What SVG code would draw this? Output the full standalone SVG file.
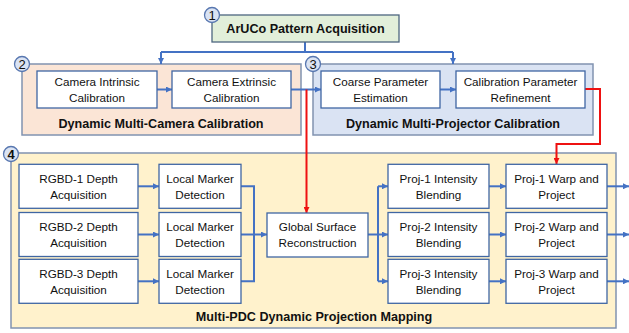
<svg xmlns="http://www.w3.org/2000/svg" width="629" height="333" viewBox="0 0 629 333">
  <style>
    text { font-family: "Liberation Sans", Arial, sans-serif; fill: #111; }
    .lbl { font-size: 11.7px; text-anchor: middle; }
    .title { font-size: 12.6px; font-weight: bold; text-anchor: middle; }
    .num { font-size: 13px; text-anchor: middle; }
    .inner { fill: #ffffff; stroke: #3f66a3; stroke-width: 1.3; }
    .outer { stroke: #8193b0; stroke-width: 1.5; }
    .badge { fill: #dae3f3; stroke: #5877b0; stroke-width: 1.3; }
    .blue { fill: none; stroke: #4472c4; stroke-width: 2; }
    .red { fill: none; stroke: #ee1111; stroke-width: 2; }
  </style>
  <defs>
    <marker id="ab" markerUnits="userSpaceOnUse" markerWidth="7" markerHeight="6" refX="6" refY="3" orient="auto">
      <path d="M0,0 L6,3 L0,6 z" fill="#4472c4"/>
    </marker>
    <marker id="ar" markerUnits="userSpaceOnUse" markerWidth="7" markerHeight="6" refX="6" refY="3" orient="auto">
      <path d="M0,0 L6,3 L0,6 z" fill="#ee1111"/>
    </marker>
  </defs>

  <!-- stage containers -->
  <g id="stage2">
    <rect class="outer" x="22" y="64" width="279" height="71" fill="#fbe5d6"/>
    <text class="title" x="161" y="127.5">Dynamic Multi-Camera Calibration</text>
  </g>
  <g id="stage3">
    <rect class="outer" x="313" y="64" width="280" height="71" fill="#dae3f3"/>
    <text class="title" x="453" y="127.5">Dynamic Multi-Projector Calibration</text>
  </g>
  <g id="stage4">
    <rect class="outer" x="11" y="153" width="605" height="175" fill="#fff2cc"/>
    <text class="title" x="314" y="321">Multi-PDC Dynamic Projection Mapping</text>
  </g>

  <!-- connectors -->
  <g id="connectors">
    <path class="blue" d="M305,42 V52 M161,52 H453"/>
    <path class="blue" d="M161,52 V64" marker-end="url(#ab)"/>
    <path class="blue" d="M453,52 V64" marker-end="url(#ab)"/>
    <path class="blue" d="M157,89.5 H172" marker-end="url(#ab)"/>
    <path class="blue" d="M291,89.5 H321" marker-end="url(#ab)"/>
    <path class="blue" d="M440,89.5 H456" marker-end="url(#ab)"/>

    <path class="blue" d="M138,186.3 H159" marker-end="url(#ab)"/>
    <path class="blue" d="M138,234.5 H159" marker-end="url(#ab)"/>
    <path class="blue" d="M138,281.3 H159" marker-end="url(#ab)"/>
    <path class="blue" d="M241,186.3 H254 V281.3 H241"/>
    <path class="blue" d="M241,234.5 H267" marker-end="url(#ab)"/>

    <path class="blue" d="M368,234.5 H378"/>
    <path class="blue" d="M378,186.3 V281.3"/>
    <path class="blue" d="M378,186.3 H388" marker-end="url(#ab)"/>
    <path class="blue" d="M378,234.5 H388" marker-end="url(#ab)"/>
    <path class="blue" d="M378,281.3 H388" marker-end="url(#ab)"/>

    <path class="blue" d="M489,186.3 H506" marker-end="url(#ab)"/>
    <path class="blue" d="M489,234.5 H506" marker-end="url(#ab)"/>
    <path class="blue" d="M489,281.3 H506" marker-end="url(#ab)"/>

    <path class="blue" d="M607,186.3 H629" marker-end="url(#ab)"/>
    <path class="blue" d="M607,234.5 H629" marker-end="url(#ab)"/>
    <path class="blue" d="M607,281.3 H629" marker-end="url(#ab)"/>

    <path class="red" d="M306.5,89.5 V213" marker-end="url(#ar)"/>
    <path class="red" d="M585,89 H600 V144 H556.5 V164" marker-end="url(#ar)"/>
  </g>

  <!-- nodes -->
  <g id="aruco">
    <rect x="212" y="15" width="187" height="27" fill="#e2efda" stroke="#4d6680" stroke-width="1.3"/>
    <text class="title" x="305.5" y="33">ArUCo Pattern Acquisition</text>
  </g>

  <g id="cam-intrinsic">
    <rect class="inner" x="37" y="71" width="120" height="37"/>
    <text class="lbl" x="97" y="86">Camera Intrinsic</text>
    <text class="lbl" x="97" y="102">Calibration</text>
  </g>
  <g id="cam-extrinsic">
    <rect class="inner" x="172" y="71" width="119" height="37"/>
    <text class="lbl" x="231.5" y="86">Camera Extrinsic</text>
    <text class="lbl" x="231.5" y="102">Calibration</text>
  </g>
  <g id="coarse">
    <rect class="inner" x="321" y="71" width="119" height="37"/>
    <text class="lbl" x="380.5" y="86">Coarse Parameter</text>
    <text class="lbl" x="380.5" y="102">Estimation</text>
  </g>
  <g id="refine">
    <rect class="inner" x="456" y="71" width="129" height="37"/>
    <text class="lbl" x="520.5" y="86">Calibration Parameter</text>
    <text class="lbl" x="520.5" y="102">Refinement</text>
  </g>

  <g id="rgbd1">
    <rect class="inner" x="19" y="164.3" width="119" height="44"/>
    <text class="lbl" x="78.5" y="183">RGBD-1 Depth</text>
    <text class="lbl" x="78.5" y="199">Acquisition</text>
  </g>
  <g id="rgbd2">
    <rect class="inner" x="19" y="212.5" width="119" height="44"/>
    <text class="lbl" x="78.5" y="231">RGBD-2 Depth</text>
    <text class="lbl" x="78.5" y="247">Acquisition</text>
  </g>
  <g id="rgbd3">
    <rect class="inner" x="19" y="259.3" width="119" height="44"/>
    <text class="lbl" x="78.5" y="278">RGBD-3 Depth</text>
    <text class="lbl" x="78.5" y="294">Acquisition</text>
  </g>

  <g id="marker1">
    <rect class="inner" x="159" y="164.3" width="82" height="44"/>
    <text class="lbl" x="200" y="183">Local Marker</text>
    <text class="lbl" x="200" y="199">Detection</text>
  </g>
  <g id="marker2">
    <rect class="inner" x="159" y="212.5" width="82" height="44"/>
    <text class="lbl" x="200" y="231">Local Marker</text>
    <text class="lbl" x="200" y="247">Detection</text>
  </g>
  <g id="marker3">
    <rect class="inner" x="159" y="259.3" width="82" height="44"/>
    <text class="lbl" x="200" y="278">Local Marker</text>
    <text class="lbl" x="200" y="294">Detection</text>
  </g>

  <g id="global-surface">
    <rect class="inner" x="267" y="213" width="101" height="44"/>
    <text class="lbl" x="317.5" y="231">Global Surface</text>
    <text class="lbl" x="317.5" y="247">Reconstruction</text>
  </g>

  <g id="blend1">
    <rect class="inner" x="388" y="164.3" width="101" height="44"/>
    <text class="lbl" x="438.5" y="183">Proj-1 Intensity</text>
    <text class="lbl" x="438.5" y="199">Blending</text>
  </g>
  <g id="blend2">
    <rect class="inner" x="388" y="212.5" width="101" height="44"/>
    <text class="lbl" x="438.5" y="231">Proj-2 Intensity</text>
    <text class="lbl" x="438.5" y="247">Blending</text>
  </g>
  <g id="blend3">
    <rect class="inner" x="388" y="259.3" width="101" height="44"/>
    <text class="lbl" x="438.5" y="278">Proj-3 Intensity</text>
    <text class="lbl" x="438.5" y="294">Blending</text>
  </g>

  <g id="warp1">
    <rect class="inner" x="506" y="164.3" width="101" height="44"/>
    <text class="lbl" x="556.5" y="183">Proj-1 Warp and</text>
    <text class="lbl" x="556.5" y="199">Project</text>
  </g>
  <g id="warp2">
    <rect class="inner" x="506" y="212.5" width="101" height="44"/>
    <text class="lbl" x="556.5" y="231">Proj-2 Warp and</text>
    <text class="lbl" x="556.5" y="247">Project</text>
  </g>
  <g id="warp3">
    <rect class="inner" x="506" y="259.3" width="101" height="44"/>
    <text class="lbl" x="556.5" y="278">Proj-3 Warp and</text>
    <text class="lbl" x="556.5" y="294">Project</text>
  </g>

  <!-- step badges -->
  <g id="badge1">
    <circle class="badge" cx="212" cy="15" r="7.5"/>
    <text class="num" x="212" y="19.6">1</text>
  </g>
  <g id="badge2">
    <circle class="badge" cx="22" cy="64" r="7.5"/>
    <text class="num" x="22" y="68.6">2</text>
  </g>
  <g id="badge3">
    <circle class="badge" cx="313" cy="64" r="7.5"/>
    <text class="num" x="313" y="68.6">3</text>
  </g>
  <g id="badge4">
    <circle class="badge" cx="11" cy="154" r="7.5"/>
    <text class="num" x="11" y="158.6" font-weight="bold">4</text>
  </g>
</svg>
